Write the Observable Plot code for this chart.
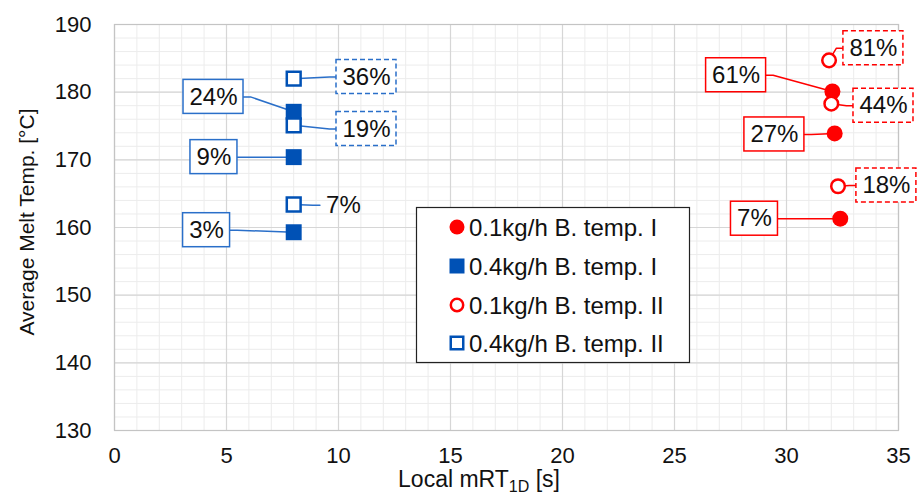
<!DOCTYPE html>
<html><head><meta charset="utf-8">
<script src="https://cdn.jsdelivr.net/npm/d3@7"></script>
<script src="https://cdn.jsdelivr.net/npm/@observablehq/plot@0.6"></script>
<style>
body{margin:0;background:#fff;}
svg{font-family:"Liberation Sans",Arial,sans-serif;}
</style>
</head><body><div id="chart"></div>
<script>
// ---- data ----
const seriesNames = ["0.1kg/h B. temp. I", "0.4kg/h B. temp. I", "0.1kg/h B. temp. II", "0.4kg/h B. temp. II"];
// 0.1kg/h B. temp. I (filled red circles)
const redIX = [32.05, 32.15, 32.4];
const redIY = [180.1, 173.9, 161.3];
const redILabels = ["61%", "27%", "7%"];
// 0.4kg/h B. temp. I (filled blue squares)
const blueIX = [8.0, 8.0, 8.0];
const blueIY = [177.1, 170.4, 159.3];
const blueILabels = ["24%", "9%", "3%"];
// 0.1kg/h B. temp. II (open red circles)
const redIIX = [31.9, 32.0, 32.3];
const redIIY = [184.7, 178.3, 166.1];
const redIILabels = ["81%", "44%", "18%"];
// 0.4kg/h B. temp. II (open blue squares)
const blueIIX = [8.0, 8.0, 8.0];
const blueIIY = [182.0, 175.1, 163.4];
const blueIILabels = ["36%", "19%", "7%"];

// annotation label anchors (data coordinates)
const redILabelX = [27.75, 29.46, 28.57],  redILabelY = [182.5, 173.75, 161.3];
const blueILabelX = [4.42, 4.44, 4.11],    blueILabelY = [179.3, 170.4, 159.6];
const redIILabelX = [33.88, 34.33, 34.46], redIILabelY = [186.5, 178.0, 166.2];
const blueIILabelX = [11.25, 11.25, 10.22], blueIILabelY = [182.25, 174.55, 163.3];

const xTicks = [0, 5, 10, 15, 20, 25, 30, 35];
const yTicks = [130, 140, 150, 160, 170, 180, 190];

// ---- layout / style ----
const W = 921, H = 499, mL = 114, mR = 23, mT = 24, mB = 69;
const xDom = [0, 35], yDom = [130, 190];
const pxX = (W - mL - mR) / (xDom[1] - xDom[0]);
const pxY = (H - mT - mB) / (yDom[1] - yDom[0]);
const RED = "#ff0000", BLUE = "#0051b5", BLUE_LINE = "#2a6fc9";

const groups = [
  {name: seriesNames[0], xs: redIX, ys: redIY, labels: redILabels, lx: redILabelX, ly: redILabelY, color: RED, line: RED, filled: true, symbol: "circle", box: "solid"},
  {name: seriesNames[1], xs: blueIX, ys: blueIY, labels: blueILabels, lx: blueILabelX, ly: blueILabelY, color: BLUE, line: BLUE_LINE, filled: true, symbol: "square", box: "solid"},
  {name: seriesNames[2], xs: redIIX, ys: redIIY, labels: redIILabels, lx: redIILabelX, ly: redIILabelY, color: RED, line: RED, filled: false, symbol: "circle", box: "dashed"},
  {name: seriesNames[3], xs: blueIIX, ys: blueIIY, labels: blueIILabels, lx: blueIILabelX, ly: blueIILabelY, color: BLUE, line: BLUE_LINE, filled: false, symbol: "square", box: "dashed"}
];

const rows = [];
groups.forEach((g, gi) => {
  g.xs.forEach((x, i) => {
    const label = g.labels[i];
    const wPx = label.length === 3 ? 60 : 47;
    const w = wPx / pxX, h = 34 / pxY;
    const lx = g.lx[i], ly = g.ly[i];
    const side = lx > x ? 1 : -1;
    const edge = lx - side * w / 2;
    const stub = edge - side * 7 / pxX;
    const box = (gi === 3 && label === "7%") ? "none" : g.box;
    rows.push({series: g.name, gi, x, y: g.ys[i], label, lx, ly, x1: lx - w / 2, x2: lx + w / 2, y1: ly - h / 2, y2: ly + h / 2,
      edge, stub, box, color: g.color, line: g.line, filled: g.filled, symbol: g.symbol, id: gi + "-" + i});
  });
});
const leaderPts = rows.flatMap(r => [
  {id: r.id, line: r.line, x: r.x, y: r.y},
  {id: r.id, line: r.line, x: r.stub, y: r.ly},
  {id: r.id, line: r.line, x: r.edge, y: r.ly}
]);

const dotMarks = [0, 1, 2, 3].map(gi => {
  const g = groups[gi];
  const data = rows.filter(r => r.gi === gi);
  if (g.filled) {
    return Plot.dot(data, {x: "x", y: "y", symbol: g.symbol, r: g.symbol === "circle" ? 8 : 9, fill: g.color, stroke: "none"});
  }
  return Plot.dot(data, {x: "x", y: "y", symbol: g.symbol, r: g.symbol === "circle" ? 6.8 : 7.8, fill: "#fff", stroke: g.color, strokeWidth: 2.5});
});

const chart = Plot.plot({
  width: W, height: H,
  marginLeft: mL, marginRight: mR, marginTop: mT, marginBottom: mB,
  x: {domain: xDom},
  y: {domain: yDom},
  style: {fontFamily: '"Liberation Sans",Arial,sans-serif', fontSize: "22px", color: "#111", background: "#fff", overflow: "visible"},
  marks: [
    Plot.ruleX(d3.range(0, 36, 1), {stroke: "#ececec", strokeWidth: 1}),
    Plot.ruleY(d3.range(130, 191, 2), {stroke: "#ececec", strokeWidth: 1}),
    Plot.ruleX(xTicks, {stroke: "#d6d6d6", strokeWidth: 1.2}),
    Plot.ruleY(yTicks, {stroke: "#d6d6d6", strokeWidth: 1.2}),
    Plot.frame({stroke: "#c4c4c4", strokeWidth: 1.2}),
    Plot.axisX(xTicks, {tickSize: 0, tickPadding: 17, fontSize: 22, label: null, fill: "#111"}),
    Plot.axisY(yTicks, {tickSize: 0, tickPadding: 23, fontSize: 22, label: null, fill: "#111"}),
    Plot.line(leaderPts, {x: "x", y: "y", z: "id", stroke: "line", strokeWidth: 1.5}),
    Plot.rect(rows.filter(r => r.box === "solid"), {x1: "x1", x2: "x2", y1: "y1", y2: "y2", fill: "#fff", stroke: "line", strokeWidth: 1.5}),
    Plot.rect(rows.filter(r => r.box === "dashed"), {x1: "x1", x2: "x2", y1: "y1", y2: "y2", fill: "#fff", stroke: "line", strokeWidth: 1.5, strokeDasharray: "5,3"}),
    Plot.text(rows, {x: "lx", y: "ly", text: "label", fontSize: 24, fill: "#111", textAnchor: "middle", lineAnchor: "middle"}),
    ...dotMarks
  ]
});

const svg = d3.select(chart);
// axis titles
svg.append("text")
  .attr("transform", "translate(27,222) rotate(-90)")
  .attr("text-anchor", "middle").attr("dy", "0.35em")
  .attr("font-size", 21).attr("fill", "#111")
  .text("Average Melt Temp. [°C]");
const xt = svg.append("text")
  .attr("x", 479).attr("y", 487)
  .attr("text-anchor", "middle")
  .attr("font-size", 23).attr("fill", "#111");
xt.append("tspan").text("Local mRT");
xt.append("tspan").attr("font-size", 16).attr("dy", 5).text("1D");
xt.append("tspan").attr("dy", -5).text(" [s]");

// legend
const leg = svg.append("g").attr("text-anchor", "start");
leg.append("rect").attr("x", 416.5).attr("y", 207.5).attr("width", 273).attr("height", 155)
  .attr("fill", "#fff").attr("stroke", "#222").attr("stroke-width", 1.2);
const legY = [227, 266, 305, 343];
groups.forEach((g, i) => {
  const cy = legY[i];
  if (g.symbol === "circle") {
    leg.append("circle").attr("cx", 457).attr("cy", cy).attr("r", g.filled ? 7.5 : 6.2)
      .attr("fill", g.filled ? g.color : "#fff").attr("stroke", g.filled ? "none" : g.color).attr("stroke-width", 2.5);
  } else {
    const s = g.filled ? 15 : 12.5;
    leg.append("rect").attr("x", 457 - s / 2).attr("y", cy - s / 2).attr("width", s).attr("height", s)
      .attr("fill", g.filled ? g.color : "#fff").attr("stroke", g.filled ? "none" : g.color).attr("stroke-width", 2.5);
  }
  leg.append("text").attr("x", 469).attr("y", cy).attr("dy", "0.36em").attr("text-anchor", "start")
    .attr("font-size", 24).attr("fill", "#111").text(g.name);
});

document.getElementById("chart").append(chart);
</script>
</body></html>
